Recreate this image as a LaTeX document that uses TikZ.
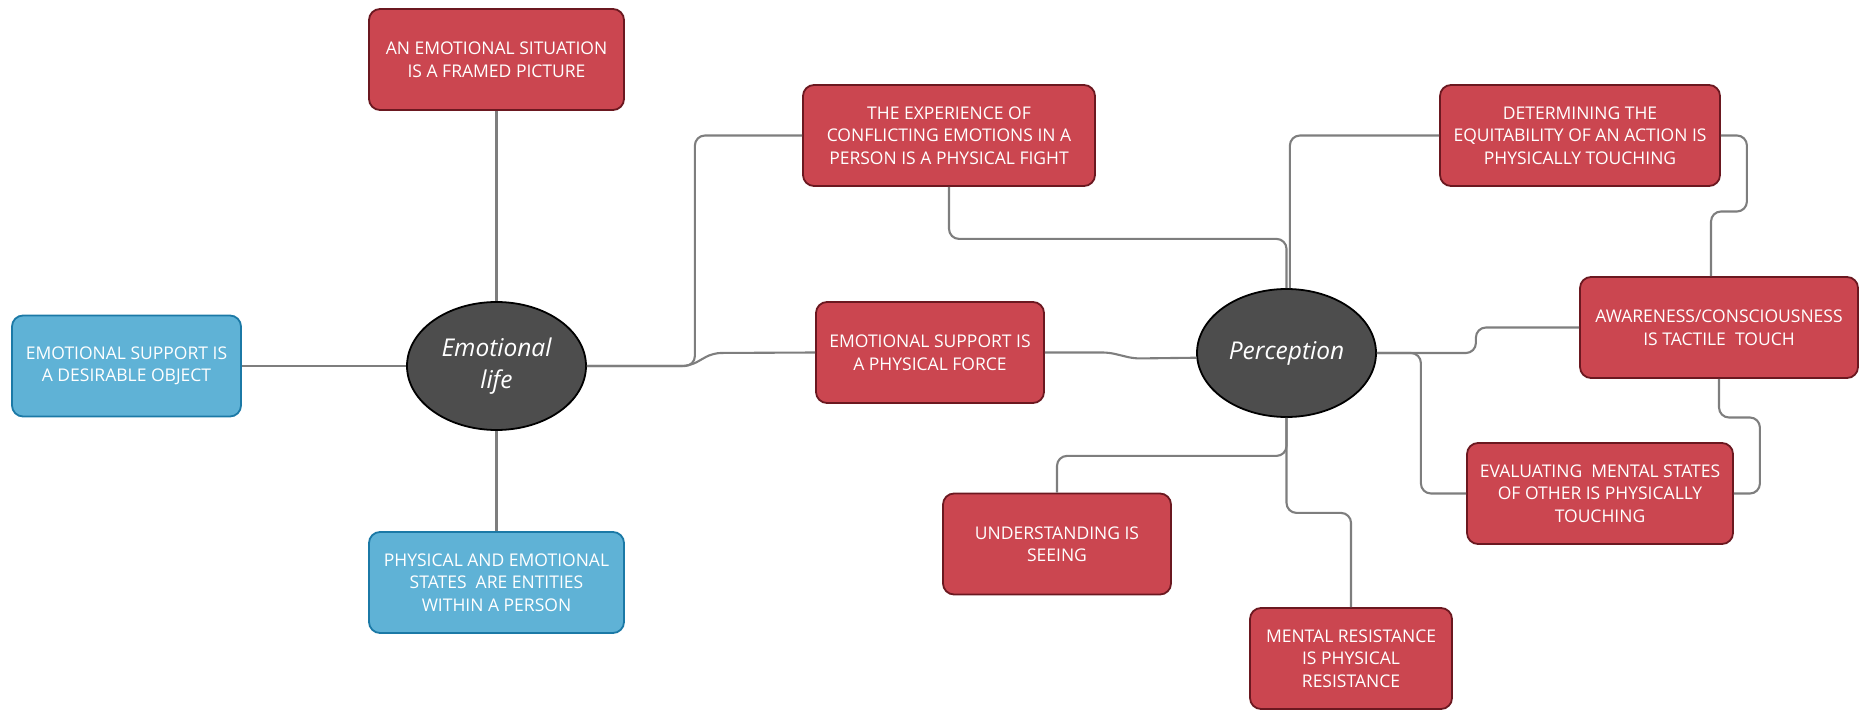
\documentclass[tikz,border=0pt]{standalone}
\usepackage{fontspec}
\setmainfont{Open Sans}
\usepackage{tikz}
\usetikzlibrary{positioning,shapes.geometric,calc}
\definecolor{redfill}{HTML}{CB4650}
\definecolor{reddraw}{HTML}{6B1820}
\definecolor{bluefill}{HTML}{5FB2D6}
\definecolor{bluedraw}{HTML}{1B79A6}
\definecolor{hubfill}{HTML}{4D4D4D}
\definecolor{linkc}{HTML}{7E7E7E}
\tikzset{
  box/.style={draw=reddraw,fill=redfill,rounded corners=11pt,minimum height=101pt,
    align=center,text=white,line width=1.8pt,inner sep=0pt,
    font=\fontsize{17.5}{22.5}\selectfont},
  bbox/.style={box,draw=bluedraw,fill=bluefill},
  hub/.style={ellipse,draw=black,fill=hubfill,minimum width=179pt,minimum height=128pt,
    inner sep=0pt,align=center,text=white,line width=1.8pt,
    font=\fontsize{24.5}{32}\selectfont\itshape},
  link/.style={draw=linkc,line width=2.1pt,rounded corners=10pt}
}
\begin{document}
\begin{tikzpicture}[x=1pt,y=-1pt]
  \useasboundingbox (0,0) rectangle (1859,711);
  % left hub
  \node[hub] (elife) at (496.5,366) {Emotional\\life};
  \node[box,minimum width=255pt] (frame) at (496.5,59.5) {AN EMOTIONAL SITUATION\\IS A FRAMED PICTURE};
  \node[bbox,minimum width=229pt] (desire) at (126.5,366) {EMOTIONAL SUPPORT IS\\A DESIRABLE OBJECT};
  \node[bbox,minimum width=255pt] (states) at (496.5,582.5) {PHYSICAL AND EMOTIONAL\\STATES\ \ ARE ENTITIES\\WITHIN A PERSON};
  \node[box,minimum width=292pt] (fight) at (949,135.5) {THE EXPERIENCE OF\\CONFLICTING EMOTIONS IN A\\PERSON IS A PHYSICAL FIGHT};
  \node[box,minimum width=228pt] (force) at (930,352.5) {EMOTIONAL SUPPORT IS\\A PHYSICAL FORCE};
  % right hub
  \node[hub] (percep) at (1286.5,353) {Perception};
  \node[box,minimum width=280pt] (equit) at (1580,135.5) {DETERMINING THE\\EQUITABILITY OF AN ACTION IS\\PHYSICALLY TOUCHING};
  \node[box,minimum width=278pt] (aware) at (1719,327.5) {AWARENESS/CONSCIOUSNESS\\IS TACTILE\ \ TOUCH};
  \node[box,minimum width=266pt] (evalm) at (1600,493.5) {EVALUATING\ \ MENTAL STATES\\OF OTHER IS PHYSICALLY\\TOUCHING};
  \node[box,minimum width=228pt] (seeing) at (1057,544) {UNDERSTANDING IS\\SEEING};
  \node[box,minimum width=202pt] (resist) at (1351,658.5) {MENTAL RESISTANCE\\IS PHYSICAL\\RESISTANCE};
  \foreach \a/\b in {frame/elife,desire/elife,elife/states}{\draw[link] (\a) -- (\b);}
  \draw[link] (elife.east) -- ++(108,0) |- (fight.west);
  \draw[link,rounded corners=8pt] (elife.east) -- ++(103,0) -- ++(23,-13) -- (force.west);
  \draw[link,rounded corners=6pt] (force.east) -- ++(64,0) -- ++(25,6) -- (percep.183);
  \draw[link] (fight.south) -- ++(0,52) -| (percep.north);
  \draw[link] (equit.west) -| (percep.87);
  \draw[link] (equit.east) -| ++(26,76) -| ($(aware.north)+(-8,0)$);
  \draw[link] (percep.east) -- ++(99,0) |- (aware.west);
  \draw[link] (percep.east) -- ++(44,0) |- (evalm.west);
  \draw[link] (evalm.east) -| ++(26,-76) -| (aware.south);
  \draw[link] (percep.south) -- ++(0,38) -| (seeing.north);
  \draw[link] (percep.south) -- ++(0,95) -| (resist.north);
\end{tikzpicture}
\end{document}
